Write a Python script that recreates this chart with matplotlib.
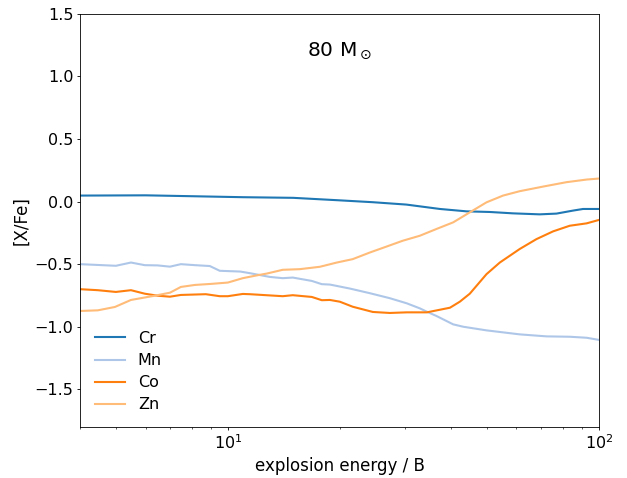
import matplotlib
matplotlib.use("Agg")
import matplotlib.pyplot as plt

# Explosion energies (B) and [X/Fe] abundances for each element
cr_e = [4.0, 6.0, 9.0, 11.0, 15.0, 20.0, 24.6, 30.3, 37.3, 44.0, 50.8, 58.7, 69.3, 76.9, 85.2, 90.7, 100.0]
cr_v = [0.048, 0.050, 0.040, 0.035, 0.030, 0.010, -0.005, -0.024, -0.059, -0.078, -0.083, -0.094, -0.102, -0.096, -0.072, -0.059, -0.059]

mn_e = [4.0, 4.99, 5.48, 5.97, 6.47, 6.98, 7.47, 8.15, 8.94, 9.51, 10.8, 11.46, 12.98, 14.06, 14.96,
        16.84, 17.92, 18.84, 21.33, 24.14, 27.33, 30.37, 32.92, 34.4, 36.5, 40.5, 43.1, 49.8, 61.2,
        72.3, 83.5, 92.7, 100.0]
mn_v = [-0.500, -0.513, -0.487, -0.508, -0.510, -0.520, -0.500, -0.508, -0.515, -0.553, -0.559, -0.572,
        -0.602, -0.612, -0.607, -0.634, -0.660, -0.663, -0.695, -0.732, -0.772, -0.813, -0.853, -0.880,
        -0.914, -0.981, -1.000, -1.029, -1.061, -1.077, -1.080, -1.088, -1.105]

co_e = [4.0, 4.46, 4.99, 5.48, 5.97, 6.47, 6.98, 7.47, 8.72, 9.51, 10.0, 10.97, 11.46, 14.06, 14.96,
        16.84, 17.92, 18.84, 20.04, 21.7, 24.6, 27.33, 30.37, 34.4, 39.7, 42.2, 44.9, 49.8, 54.1,
        61.2, 67.9, 75.3, 83.5, 92.7, 100.0]
co_v = [-0.700, -0.708, -0.722, -0.708, -0.736, -0.752, -0.760, -0.746, -0.740, -0.756, -0.756, -0.738,
        -0.740, -0.756, -0.748, -0.762, -0.788, -0.786, -0.800, -0.840, -0.882, -0.890, -0.885, -0.885,
        -0.848, -0.800, -0.736, -0.580, -0.487, -0.379, -0.300, -0.238, -0.193, -0.174, -0.147]

zn_e = [4.0, 4.46, 4.96, 5.48, 6.3, 6.98, 7.47, 8.15, 8.98, 10.0, 10.97, 12.05, 12.74, 14.06, 15.63,
        17.7, 19.67, 21.7, 24.14, 26.8, 29.6, 32.92, 36.5, 40.5, 44.9, 49.8, 55.2, 61.2, 70.8, 81.8,
        92.7, 100.0]
zn_v = [-0.874, -0.869, -0.842, -0.786, -0.754, -0.728, -0.682, -0.666, -0.658, -0.647, -0.612, -0.588,
        -0.575, -0.545, -0.540, -0.521, -0.487, -0.460, -0.407, -0.359, -0.313, -0.273, -0.219, -0.166,
        -0.086, -0.006, 0.048, 0.083, 0.120, 0.155, 0.176, 0.184]

series = [("Cr", cr_e, cr_v, "#1f77b4"),
          ("Mn", mn_e, mn_v, "#aec7e8"),
          ("Co", co_e, co_v, "#ff7f0e"),
          ("Zn", zn_e, zn_v, "#ffbb78")]

plt.rcParams.update({
    "font.size": 11.5,
    "axes.labelsize": 12,
    "axes.linewidth": 0.6,
    "xtick.major.size": 2.5, "ytick.major.size": 2.5,
    "xtick.minor.size": 1.45, "ytick.minor.size": 1.45,
    "xtick.major.width": 0.6, "ytick.major.width": 0.6,
    "xtick.minor.width": 0.45, "ytick.minor.width": 0.45,
    "xtick.major.pad": 2.5, "ytick.major.pad": 2.5,
    "xtick.minor.pad": 2.5,
    "axes.labelpad": 2.9,
})

fig = plt.figure(figsize=(6.27, 4.78), dpi=100)
ax = fig.add_axes([0.128, 0.107, 0.827, 0.864])

for name, e, v, c in series:
    ax.plot(e, v, color=c, lw=1.5, label=name)

ax.set_xscale("log")
ax.set_xlim(4, 100)
ax.set_ylim(-1.8, 1.5)
ax.set_xlabel("explosion energy / B")
ax.set_ylabel("[X/Fe]")
ax.text(0.5, 0.91, r"80 M$_\odot$", transform=ax.transAxes,
        ha="center", va="center", fontsize=14.5)
ax.legend(loc="lower left", frameon=False, fontsize=11.5, labelspacing=0.45,
          handlelength=1.9)

fig.savefig("out.png", dpi=100)
